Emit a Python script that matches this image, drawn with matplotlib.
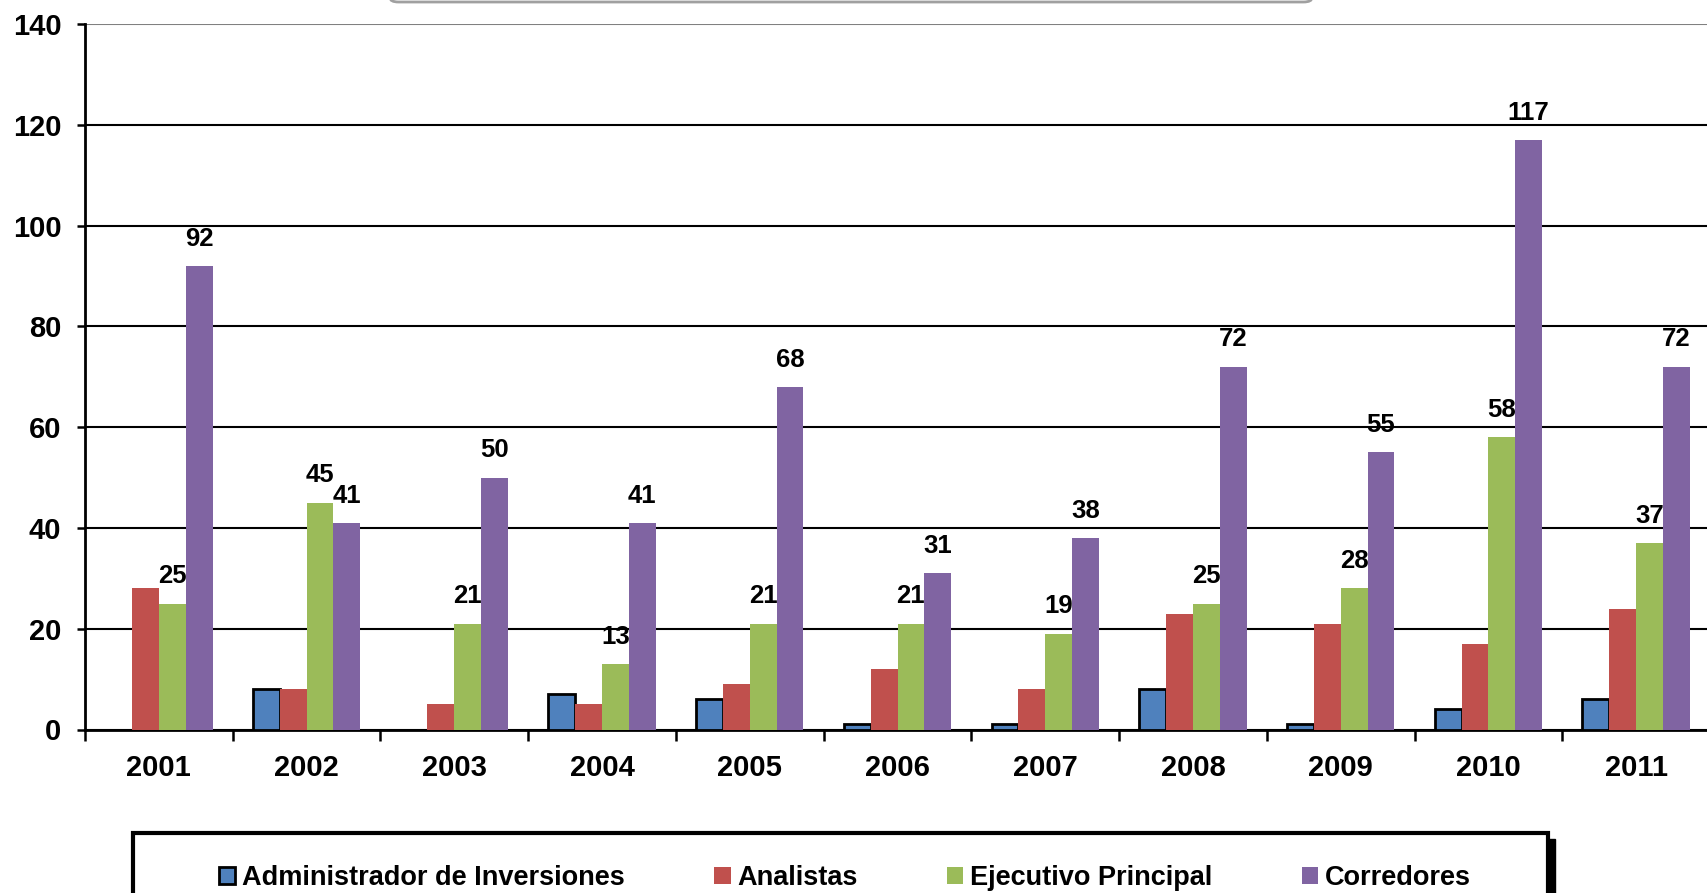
import matplotlib
matplotlib.use("Agg")
import matplotlib.pyplot as plt
from matplotlib.patches import Rectangle, FancyBboxPatch
import numpy as np

plt.rcParams['font.family'] = ['Liberation Sans', 'DejaVu Sans']
plt.rcParams['font.weight'] = 'bold'

years = ['2001', '2002', '2003', '2004', '2005', '2006', '2007', '2008', '2009', '2010', '2011']
series_names = ['Administrador de Inversiones', 'Analistas', 'Ejecutivo Principal', 'Corredores']
admin = [0, 8, 0, 7, 6, 1, 1, 8, 1, 4, 6]
analistas = [28, 8, 5, 5, 9, 12, 8, 23, 21, 17, 24]
ejecutivo = [25, 45, 21, 13, 21, 21, 19, 25, 28, 58, 37]
corredores = [92, 41, 50, 41, 68, 31, 38, 72, 55, 117, 72]
colors = ['#4F81BD', '#C0504D', '#9BBB59', '#8064A2']
labeled = [False, False, True, True]

W, H = 1707, 893
fig = plt.figure(figsize=(W / 100, H / 100), dpi=100)
left, right = 85, 1710
top, bottom = 24, 729.5
ax = fig.add_axes([left / W, 1 - bottom / H, (right - left) / W, (bottom - top) / H])

x = np.arange(len(years))
w = 1 / 5.5
handles = []
for i, (vals, c, name, lab) in enumerate(zip([admin, analistas, ejecutivo, corredores], colors, series_names, labeled)):
    if i == 0:
        bars = ax.bar(x + (i - 1.5) * w, vals, w, color=c, edgecolor='black', linewidth=2, label=name, zorder=3)
    else:
        bars = ax.bar(x + (i - 1.5) * w, vals, w, color=c, edgecolor='none', label=name, zorder=3)
    handles.append(bars)
    if lab:
        ax.bar_label(bars, labels=[str(v) for v in vals], padding=11, fontsize=18.5, fontweight='bold', zorder=4)

ax.set_xlim(-0.5, len(years) - 0.5)
ax.set_ylim(0, 140)
ax.set_yticks(np.arange(0, 141, 20))
ax.yaxis.grid(True, color='black', linewidth=1.5, zorder=1)
ax.get_ygridlines()[-1].set_color('#808080')
ax.set_axisbelow(True)
ax.set_xticks(x)
ax.set_xticklabels(years, fontsize=21, fontweight='bold')
ax.set_xticks(np.arange(-0.5, len(years), 1), minor=True)
ax.tick_params(axis='x', which='major', length=0, pad=18)
ax.tick_params(axis='x', which='minor', length=8, width=1.8, direction='out')
ax.tick_params(axis='y', length=6, width=1.8, direction='out', pad=11, labelsize=21)
for t in ax.get_yticklabels():
    t.set_fontweight('bold')
for s in ['top', 'right']:
    ax.spines[s].set_visible(False)
ax.spines['left'].set_linewidth(2)
ax.spines['bottom'].set_linewidth(2)

# legend box with shadow
bx0, bx1, by0 = 133, 1548, 833
fig.patches.append(Rectangle(((bx0 + 7) / W, -0.1), (bx1 - bx0) / W, 1 - (by0 + 6) / H + 0.1,
                             transform=fig.transFigure, facecolor='black', edgecolor='black', zorder=1))
fig.patches.append(Rectangle((bx0 / W, -0.1), (bx1 - bx0) / W, 1 - by0 / H + 0.1,
                             transform=fig.transFigure, facecolor='white', edgecolor='black', linewidth=3, zorder=2))
leg = fig.legend(handles=handles, labels=series_names, loc='center', bbox_to_anchor=(845 / W, 1 - 878 / H),
                 ncol=4, frameon=False, handlelength=0.6, handleheight=0.6, handletextpad=0.25,
                 columnspacing=3.3, prop={'weight': 'bold', 'size': 19.5})
leg.set_zorder(5)

# bottom of title box at top
fig.patches.append(FancyBboxPatch((390 / W, 1 - 2 / H), (1312 - 390) / W, 0.1,
                                  boxstyle='round,pad=0,rounding_size=0.005', transform=fig.transFigure,
                                  facecolor='white', edgecolor='#A0A0A0', linewidth=2))

fig.savefig('out.png', dpi=100)
